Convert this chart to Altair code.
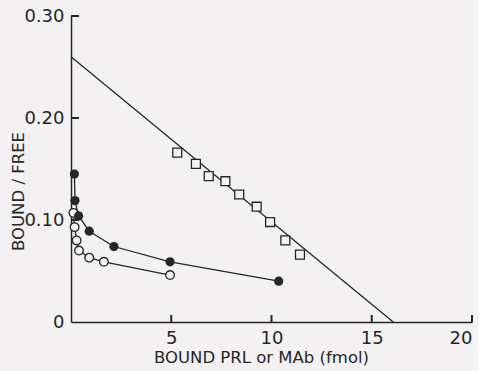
import altair as alt
import pandas as pd

# ---- data ----
sq_x = [5.3, 6.23, 6.87, 7.70, 8.39, 9.26, 9.93, 10.69, 11.42]
sq_y = [0.166, 0.155, 0.143, 0.138, 0.125, 0.113, 0.098, 0.080, 0.066]

filled_x = [0.17, 0.20, 0.38, 0.91, 2.14, 4.94, 10.36]
filled_y = [0.145, 0.119, 0.104, 0.089, 0.074, 0.059, 0.040]

open_x = [0.12, 0.18, 0.28, 0.40, 0.91, 1.64, 4.94]
open_y = [0.107, 0.093, 0.080, 0.070, 0.063, 0.059, 0.046]

fit_x = [0.0, 16.07]
fit_y = [0.26, 0.0]

x_domain = [0, 20]
y_domain = [0, 0.30]
x_ticks = [5, 10, 15, 20]
y_ticks = [0.10, 0.20, 0.30]
y_label_values = [0, 0.10, 0.20, 0.30]

x_title = "BOUND    PRL or MAb   (fmol)"
y_title = "BOUND / FREE"

# ---- styling ----
BG = "#f3f1f1"
INK = "#262626"
FONT = "DejaVu Sans"
W, H = 401, 306

x_scale = alt.Scale(domain=x_domain, nice=False)
y_scale = alt.Scale(domain=y_domain, nice=False)

sq = pd.DataFrame({"x": sq_x, "y": sq_y})
filled = pd.DataFrame({"x": filled_x, "y": filled_y, "i": list(range(len(filled_x)))})
opn = pd.DataFrame({"x": open_x, "y": open_y, "i": list(range(len(open_x)))})
fit = pd.DataFrame({"x": fit_x, "y": fit_y})
xt = pd.DataFrame({"v": x_ticks})
yt = pd.DataFrame({"v": y_ticks})

x_axis = alt.Axis(values=x_ticks, title=x_title, tickSize=0, grid=False,
                  titleX=190, titleY=27)
y_axis = alt.Axis(values=y_label_values, title=y_title, tickSize=0, grid=False,
                  titleX=-45, titleY=175,
                  labelExpr="datum.value == 0 ? '0' : format(datum.value, '.2f')")

X = alt.X("x:Q", scale=x_scale, axis=x_axis)
Y = alt.Y("y:Q", scale=y_scale, axis=y_axis)

fit_line = alt.Chart(fit).mark_line(color=INK, strokeWidth=1.3).encode(x=X, y=Y)

squares = alt.Chart(sq).mark_point(
    shape="square", size=80, filled=False, color=INK, strokeWidth=1.3, fill=BG, fillOpacity=1
).encode(x=X, y=Y)

filled_line = alt.Chart(filled).mark_line(color=INK, strokeWidth=1.3).encode(
    x=X, y=Y, order="i:Q")
filled_pts = alt.Chart(filled).mark_point(
    shape="circle", size=85, filled=True, color=INK, opacity=1
).encode(x=X, y=Y)

open_line = alt.Chart(opn).mark_line(color=INK, strokeWidth=1.3).encode(
    x=X, y=Y, order="i:Q")
open_pts = alt.Chart(opn).mark_point(
    shape="circle", size=75, filled=False, color=INK, strokeWidth=1.3, fill=BG, fillOpacity=1
).encode(x=X, y=Y)

# inward tick marks
x_tick_marks = alt.Chart(xt).mark_rule(color=INK, strokeWidth=2).encode(
    x=alt.X("v:Q", scale=x_scale, axis=x_axis), y=alt.value(H), y2=alt.value(H - 7),
)
y_tick_marks = alt.Chart(yt).mark_rule(color=INK, strokeWidth=2).encode(
    y=alt.Y("v:Q", scale=y_scale, axis=y_axis), x=alt.value(0), x2=alt.value(8),
)

chart = alt.layer(
    fit_line, squares, filled_line, open_line, open_pts, filled_pts,
    x_tick_marks, y_tick_marks,
).properties(
    width=W, height=H, background=BG,
    padding={"left": 10, "top": 7, "right": 5, "bottom": 5},
).configure_axis(
    domainColor=INK, domainWidth=1.5, labelColor=INK, titleColor=INK,
    labelFont=FONT, titleFont=FONT, labelFontSize=18, titleFontSize=16.5,
    titleFontWeight="normal", labelPadding=7,
).configure_view(stroke=None)

chart.save("out.html", embed_options={"renderer": "svg", "actions": False})
